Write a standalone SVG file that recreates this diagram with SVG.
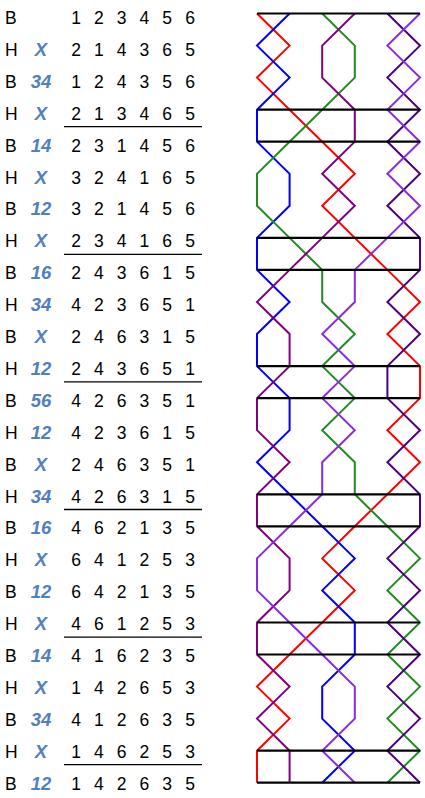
<svg xmlns="http://www.w3.org/2000/svg" width="425" height="798" viewBox="0 0 425 798">
<style>
.t{font-family:"Liberation Sans",Arial,sans-serif;font-size:17.5px;fill:#000}
.l{font-family:"Liberation Sans",Arial,sans-serif;font-size:18.5px;font-weight:bold;font-style:italic;fill:#4f81bd;text-anchor:middle}
.d{font-family:"Liberation Sans",Arial,sans-serif;font-size:17.5px;fill:#000;text-anchor:middle}
.u{stroke:#000;stroke-width:1.3}
.b{fill:none;stroke-width:2;stroke-linejoin:miter}
.k{stroke:#000;stroke-width:2.2}
</style>
<rect width="425" height="798" fill="#fff"/>
<g id="table">
<g id="rows-side">
<text class="t" x="5" y="24">B</text>
<text class="t" x="5" y="55.9">H</text>
<text class="t" x="5" y="87.8">B</text>
<text class="t" x="5" y="119.7">H</text>
<text class="t" x="5" y="151.6">B</text>
<text class="t" x="5" y="183.5">H</text>
<text class="t" x="5" y="215.4">B</text>
<text class="t" x="5" y="247.3">H</text>
<text class="t" x="5" y="279.2">B</text>
<text class="t" x="5" y="311.1">H</text>
<text class="t" x="5" y="343">B</text>
<text class="t" x="5" y="374.9">H</text>
<text class="t" x="5" y="406.8">B</text>
<text class="t" x="5" y="438.7">H</text>
<text class="t" x="5" y="470.6">B</text>
<text class="t" x="5" y="502.5">H</text>
<text class="t" x="5" y="534.4">B</text>
<text class="t" x="5" y="566.3">H</text>
<text class="t" x="5" y="598.2">B</text>
<text class="t" x="5" y="630.1">H</text>
<text class="t" x="5" y="662">B</text>
<text class="t" x="5" y="693.9">H</text>
<text class="t" x="5" y="725.8">B</text>
<text class="t" x="5" y="757.7">H</text>
<text class="t" x="5" y="789.6">B</text>
</g>
<g id="place-notation">
<text class="l" x="41" y="55.9">X</text>
<text class="l" x="41" y="87.8">34</text>
<text class="l" x="41" y="119.7">X</text>
<text class="l" x="41" y="151.6">14</text>
<text class="l" x="41" y="183.5">X</text>
<text class="l" x="41" y="215.4">12</text>
<text class="l" x="41" y="247.3">X</text>
<text class="l" x="41" y="279.2">16</text>
<text class="l" x="41" y="311.1">34</text>
<text class="l" x="41" y="343">X</text>
<text class="l" x="41" y="374.9">12</text>
<text class="l" x="41" y="406.8">56</text>
<text class="l" x="41" y="438.7">12</text>
<text class="l" x="41" y="470.6">X</text>
<text class="l" x="41" y="502.5">34</text>
<text class="l" x="41" y="534.4">16</text>
<text class="l" x="41" y="566.3">X</text>
<text class="l" x="41" y="598.2">12</text>
<text class="l" x="41" y="630.1">X</text>
<text class="l" x="41" y="662">14</text>
<text class="l" x="41" y="693.9">X</text>
<text class="l" x="41" y="725.8">34</text>
<text class="l" x="41" y="757.7">X</text>
<text class="l" x="41" y="789.6">12</text>
</g>
<g id="changes">
<text class="d" x="76 87.4 98.8 110.2 121.6 133 144.4 155.8 167.2 178.6 190" y="24">1 2 3 4 5 6</text>
<text class="d" x="76 87.4 98.8 110.2 121.6 133 144.4 155.8 167.2 178.6 190" y="55.9">2 1 4 3 6 5</text>
<text class="d" x="76 87.4 98.8 110.2 121.6 133 144.4 155.8 167.2 178.6 190" y="87.8">1 2 4 3 5 6</text>
<text class="d" x="76 87.4 98.8 110.2 121.6 133 144.4 155.8 167.2 178.6 190" y="119.7">2 1 3 4 6 5</text>
<text class="d" x="76 87.4 98.8 110.2 121.6 133 144.4 155.8 167.2 178.6 190" y="151.6">2 3 1 4 5 6</text>
<text class="d" x="76 87.4 98.8 110.2 121.6 133 144.4 155.8 167.2 178.6 190" y="183.5">3 2 4 1 6 5</text>
<text class="d" x="76 87.4 98.8 110.2 121.6 133 144.4 155.8 167.2 178.6 190" y="215.4">3 2 1 4 5 6</text>
<text class="d" x="76 87.4 98.8 110.2 121.6 133 144.4 155.8 167.2 178.6 190" y="247.3">2 3 4 1 6 5</text>
<text class="d" x="76 87.4 98.8 110.2 121.6 133 144.4 155.8 167.2 178.6 190" y="279.2">2 4 3 6 1 5</text>
<text class="d" x="76 87.4 98.8 110.2 121.6 133 144.4 155.8 167.2 178.6 190" y="311.1">4 2 3 6 5 1</text>
<text class="d" x="76 87.4 98.8 110.2 121.6 133 144.4 155.8 167.2 178.6 190" y="343">2 4 6 3 1 5</text>
<text class="d" x="76 87.4 98.8 110.2 121.6 133 144.4 155.8 167.2 178.6 190" y="374.9">2 4 3 6 5 1</text>
<text class="d" x="76 87.4 98.8 110.2 121.6 133 144.4 155.8 167.2 178.6 190" y="406.8">4 2 6 3 5 1</text>
<text class="d" x="76 87.4 98.8 110.2 121.6 133 144.4 155.8 167.2 178.6 190" y="438.7">4 2 3 6 1 5</text>
<text class="d" x="76 87.4 98.8 110.2 121.6 133 144.4 155.8 167.2 178.6 190" y="470.6">2 4 6 3 5 1</text>
<text class="d" x="76 87.4 98.8 110.2 121.6 133 144.4 155.8 167.2 178.6 190" y="502.5">4 2 6 3 1 5</text>
<text class="d" x="76 87.4 98.8 110.2 121.6 133 144.4 155.8 167.2 178.6 190" y="534.4">4 6 2 1 3 5</text>
<text class="d" x="76 87.4 98.8 110.2 121.6 133 144.4 155.8 167.2 178.6 190" y="566.3">6 4 1 2 5 3</text>
<text class="d" x="76 87.4 98.8 110.2 121.6 133 144.4 155.8 167.2 178.6 190" y="598.2">6 4 2 1 3 5</text>
<text class="d" x="76 87.4 98.8 110.2 121.6 133 144.4 155.8 167.2 178.6 190" y="630.1">4 6 1 2 5 3</text>
<text class="d" x="76 87.4 98.8 110.2 121.6 133 144.4 155.8 167.2 178.6 190" y="662">4 1 6 2 3 5</text>
<text class="d" x="76 87.4 98.8 110.2 121.6 133 144.4 155.8 167.2 178.6 190" y="693.9">1 4 2 6 5 3</text>
<text class="d" x="76 87.4 98.8 110.2 121.6 133 144.4 155.8 167.2 178.6 190" y="725.8">4 1 2 6 3 5</text>
<text class="d" x="76 87.4 98.8 110.2 121.6 133 144.4 155.8 167.2 178.6 190" y="757.7">1 4 6 2 5 3</text>
<text class="d" x="76 87.4 98.8 110.2 121.6 133 144.4 155.8 167.2 178.6 190" y="789.6">1 4 2 6 3 5</text>
</g>
<g id="lead-lines">
<line class="u" x1="64" y1="126.7" x2="202" y2="126.7"/>
<line class="u" x1="64" y1="254.3" x2="202" y2="254.3"/>
<line class="u" x1="64" y1="381.9" x2="202" y2="381.9"/>
<line class="u" x1="64" y1="509.5" x2="202" y2="509.5"/>
<line class="u" x1="64" y1="637.1" x2="202" y2="637.1"/>
<line class="u" x1="64" y1="764.7" x2="202" y2="764.7"/>
</g>
</g>
<g id="grid">
<g id="bell-paths">
<polyline id="bell1" class="b" stroke="#ff0000" points="257,13.5 289.6,45.6 257,77.6 289.6,109.7 322.2,141.7 354.8,173.8 322.2,205.8 354.8,237.9 387.4,269.9 420,302 387.4,334 420,366.1 420,398.1 387.4,430.2 420,462.2 387.4,494.3 354.8,526.3 322.2,558.4 354.8,590.4 322.2,622.5 289.6,654.5 257,686.6 289.6,718.6 257,750.7 257,782.7"/>
<polyline id="bell2" class="b" stroke="#0000ff" points="289.6,13.5 257,45.6 289.6,77.6 257,109.7 257,141.7 289.6,173.8 289.6,205.8 257,237.9 257,269.9 289.6,302 257,334 257,366.1 289.6,398.1 289.6,430.2 257,462.2 289.6,494.3 322.2,526.3 354.8,558.4 322.2,590.4 354.8,622.5 354.8,654.5 322.2,686.6 322.2,718.6 354.8,750.7 322.2,782.7"/>
<polyline id="bell3" class="b" stroke="#228b22" points="322.2,13.5 354.8,45.6 354.8,77.6 322.2,109.7 289.6,141.7 257,173.8 257,205.8 289.6,237.9 322.2,269.9 322.2,302 354.8,334 322.2,366.1 354.8,398.1 322.2,430.2 354.8,462.2 354.8,494.3 387.4,526.3 420,558.4 387.4,590.4 420,622.5 387.4,654.5 420,686.6 387.4,718.6 420,750.7 387.4,782.7"/>
<polyline id="bell4" class="b" stroke="#800080" points="354.8,13.5 322.2,45.6 322.2,77.6 354.8,109.7 354.8,141.7 322.2,173.8 354.8,205.8 322.2,237.9 289.6,269.9 257,302 289.6,334 289.6,366.1 257,398.1 257,430.2 289.6,462.2 257,494.3 257,526.3 289.6,558.4 289.6,590.4 257,622.5 257,654.5 289.6,686.6 257,718.6 289.6,750.7 289.6,782.7"/>
<polyline id="bell5" class="b" stroke="#4b0082" points="387.4,13.5 420,45.6 387.4,77.6 420,109.7 387.4,141.7 420,173.8 387.4,205.8 420,237.9 420,269.9 387.4,302 420,334 387.4,366.1 387.4,398.1 420,430.2 387.4,462.2 420,494.3 420,526.3 387.4,558.4 420,590.4 387.4,622.5 420,654.5 387.4,686.6 420,718.6 387.4,750.7 420,782.7"/>
<polyline id="bell6" class="b" stroke="#8a2be2" points="420,13.5 387.4,45.6 420,77.6 387.4,109.7 420,141.7 387.4,173.8 420,205.8 387.4,237.9 354.8,269.9 354.8,302 322.2,334 354.8,366.1 322.2,398.1 354.8,430.2 322.2,462.2 322.2,494.3 289.6,526.3 257,558.4 257,590.4 289.6,622.5 322.2,654.5 354.8,686.6 354.8,718.6 322.2,750.7 354.8,782.7"/>
</g>
<g id="row-lines">
<line class="k" x1="257" y1="13.5" x2="420" y2="13.5"/>
<line class="k" x1="257" y1="109.7" x2="420" y2="109.7"/>
<line class="k" x1="257" y1="141.7" x2="420" y2="141.7"/>
<line class="k" x1="257" y1="237.9" x2="420" y2="237.9"/>
<line class="k" x1="257" y1="269.9" x2="420" y2="269.9"/>
<line class="k" x1="257" y1="366.1" x2="420" y2="366.1"/>
<line class="k" x1="257" y1="398.1" x2="420" y2="398.1"/>
<line class="k" x1="257" y1="494.3" x2="420" y2="494.3"/>
<line class="k" x1="257" y1="526.3" x2="420" y2="526.3"/>
<line class="k" x1="257" y1="622.5" x2="420" y2="622.5"/>
<line class="k" x1="257" y1="654.5" x2="420" y2="654.5"/>
<line class="k" x1="257" y1="750.7" x2="420" y2="750.7"/>
<line class="k" x1="257" y1="782.7" x2="420" y2="782.7"/>
</g>
</g>
</svg>
